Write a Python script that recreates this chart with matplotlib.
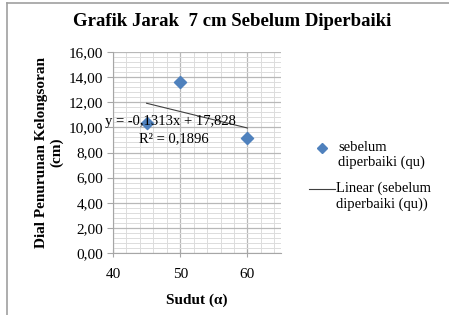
import matplotlib.pyplot as plt
import numpy as np
from matplotlib.lines import Line2D
from matplotlib.ticker import MultipleLocator, FuncFormatter

plt.rcParams['font.family'] = ['Liberation Serif', 'DejaVu Serif']

# data
sudut = [45, 50, 60]
penurunan = [10.35, 13.6, 9.17]
slope = -0.1313
intercept = 17.828

fig = plt.figure(figsize=(4.49, 3.15), dpi=100)

# outer chart border (left and top visible)
fig.add_artist(Line2D([7 / 449, 7 / 449], [0, 1 - 3 / 315], color='#a0a0a0', lw=1.2))
fig.add_artist(Line2D([7 / 449, 1], [1 - 3 / 315, 1 - 3 / 315], color='#a0a0a0', lw=1.2))

ax = fig.add_axes([113 / 449, 62 / 315, 168 / 449, 201 / 315])

ax.set_xlim(40, 65)
ax.set_ylim(0, 16)
ax.xaxis.set_major_locator(MultipleLocator(10))
ax.xaxis.set_minor_locator(MultipleLocator(2))
ax.yaxis.set_major_locator(MultipleLocator(2))
ax.yaxis.set_minor_locator(MultipleLocator(0.4))
ax.yaxis.set_major_formatter(FuncFormatter(lambda v, p: f"{v:.2f}".replace('.', ',')))

ax.grid(which='major', color='#b8b8b8', lw=0.9)
ax.grid(which='minor', color='#dcdcdc', lw=0.7)
ax.set_axisbelow(True)

for s in ['top', 'right']:
    ax.spines[s].set_visible(False)
ax.spines['left'].set_color('#a6a6a6')
ax.spines['bottom'].set_color('#a6a6a6')
ax.tick_params(which='major', length=4, color='#a6a6a6', labelsize=11, pad=3)
ax.tick_params(axis='x', which='major', direction='inout', length=6, pad=8)
ax.tick_params(which='minor', length=0)

# trendline over data range
xt = np.array([min(sudut), max(sudut)])
ax.plot(xt, slope * xt + intercept, color='#404040', lw=0.8, zorder=3)
ax.scatter(sudut, penurunan, marker='D', s=38, color='#4F81BD', zorder=4)

ax.text(48.5, 10.5, "y = -0,1313x + 17,828", fontsize=10.5, ha='center', va='center', zorder=5)
ax.text(49.0, 9.1, "R² = 0,1896", fontsize=10.5, ha='center', va='center', zorder=5)

ax.set_xlabel("Sudut (α)", fontsize=11, fontweight='bold', labelpad=9)
ax.set_ylabel("Dial Penurunan Kelongsoran\n(cm)", fontsize=11, fontweight='bold', labelpad=4)
fig.text(232 / 449, 1 - 22 / 315, "Grafik Jarak  7 cm Sebelum Diperbaiki",
         fontsize=13.5, fontweight='bold', ha='center', va='center')

# legend drawn by hand to mimic the layout
fig.add_artist(Line2D([322 / 449], [1 - 148 / 315], marker='D', ms=5, color='#4F81BD', lw=0))
fig.text(338 / 449, 1 - 141 / 315, "sebelum\ndiperbaiki (qu)", fontsize=10.5,
         va='top', ha='left', linespacing=1.15)
fig.add_artist(Line2D([309 / 449, 335 / 449], [1 - 189 / 315, 1 - 189 / 315], color='#404040', lw=0.8))
fig.text(336 / 449, 1 - 182 / 315, "Linear (sebelum\ndiperbaiki (qu))", fontsize=10.5,
         va='top', ha='left', linespacing=1.15)

fig.savefig("out.png", dpi=100)
